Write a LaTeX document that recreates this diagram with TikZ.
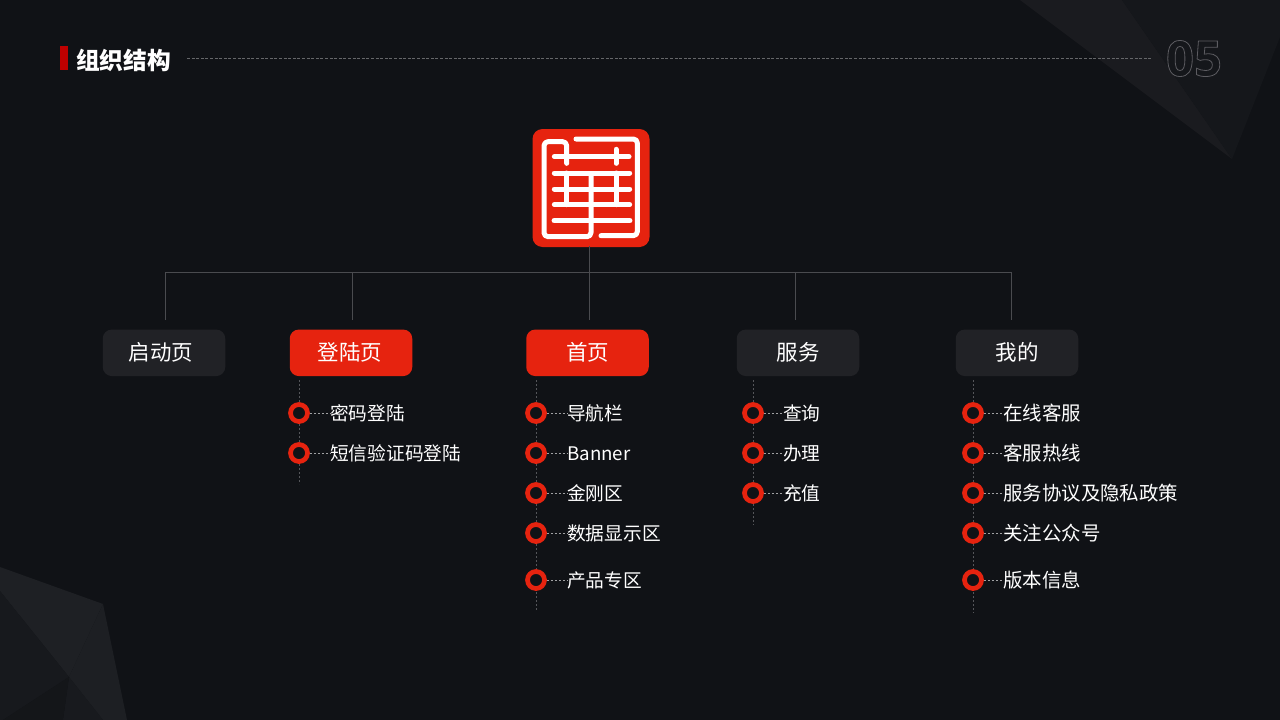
\documentclass[tikz,border=0pt]{standalone}
\usepackage{fontspec}
\setmainfont{Noto Sans CJK SC}
\newfontfamily\numfont{Open Sans}
\definecolor{bgc}{HTML}{101216}
\definecolor{redc}{HTML}{E6230F}
\definecolor{boxc}{HTML}{212226}
\definecolor{linec}{HTML}{4A4B4F}
\definecolor{dashc}{HTML}{A0A1A3}
\definecolor{spinec}{HTML}{55565A}
\tikzset{
  x=1pt,y=-1pt,
  navbox/.style={rounded corners=9pt,minimum width=122.5pt,minimum height=46.5pt,inner sep=0pt,text=white,font=\fontsize{21.5}{24}\selectfont},
  darkbox/.style={navbox,fill=boxc},
  redbox/.style={navbox,fill=redc},
  ring/.style={circle,draw=redc,line width=4.7pt,fill=bgc,minimum size=17pt,inner sep=0pt},
  itemlabel/.style={anchor=west,inner sep=0pt,text=white,text height=16pt,text depth=2pt,font=\fontsize{18.7}{22}\selectfont},
  widelabel/.style={itemlabel,font=\fontsize{19.45}{22}\selectfont},
  orgline/.style={draw=linec,line width=0.9pt},
  dashline/.style={draw=dashc,line width=0.8pt,dash pattern=on 2.6pt off 1.4pt},
  spineline/.style={draw=spinec,line width=1pt,dash pattern=on 2pt off 2pt},
  logostroke/.style={draw=white,line width=5pt,line cap=round,line join=round,rounded corners=4pt},
}
\begin{document}
\begin{tikzpicture}
\useasboundingbox (0,0) rectangle (1280,720);
\fill[bgc] (0,0) rectangle (1280,720);
% corner facets
\fill[fill=white!4!bgc] (1020,0) -- (1122,0) -- (1232,159) -- cycle;
\fill[fill=white!2!bgc] (1122,0) -- (1280,0) -- (1280,37) -- (1232,159) -- cycle;
\fill[fill=white!6!bgc] (0,567) -- (103,604) -- (69,677) -- (0,591) -- cycle;
\fill[fill=white!5.5!bgc] (103,604) -- (127,720) -- (103,720) -- (69,677) -- cycle;
\fill[fill=white!3!bgc] (0,591) -- (69,677) -- (3,720) -- (0,720) -- cycle;
\fill[fill=white!3.5!bgc] (69,677) -- (103,720) -- (63,720) -- cycle;
\fill[fill=white!1.5!bgc] (69,677) -- (63,720) -- (3,720) -- cycle;
% title
\fill[fill=red!75!black] (60,46) rectangle (68,70);
\node[anchor=west,inner sep=0pt,text=white,font=\fontsize{23.7}{26}\selectfont\bfseries] (title) at (76,60) {组织结构};
\coordinate (ruleL) at (187,58);
\coordinate (ruleR) at (1152,58);
\draw[draw=linec!85!white,line width=0.9pt,dash pattern=on 3pt off 1.6pt] (ruleL) -- (ruleR);
\node[anchor=center,inner sep=0pt,font=\numfont\bfseries\fontsize{49}{52}\selectfont] (num) at (1194,58.5)
  {\special{pdf:code q 1 Tr 0.8 w 0.36 0.36 0.38 RG}05\special{pdf:code Q}};
% logo
\node[fill=redc,rounded corners=10pt,minimum width=117pt,minimum height=118pt,inner sep=0pt] (logo) at (591,188) {};
\begin{scope}[shift={(520,120)},x=0.33333pt,y=-0.33333pt]
\draw[logostroke] (140,130) -- (140,65) -- (72,65) -- (72,350) -- (213,350) -- (213,165);
\draw[logostroke] (168,57) -- (352,57) -- (352,347) -- (243,347);
\draw[logostroke] (103,110) -- (327,110);
\draw[logostroke] (288,88) -- (288,130);
\draw[logostroke] (103,159) -- (329,159);
\draw[logostroke] (103,207) -- (329,207);
\draw[logostroke] (103,254) -- (329,254);
\draw[logostroke,line width=5.6pt] (103,302) -- (329,302);
\draw[logostroke] (140,159) -- (140,254);
\draw[logostroke] (288,159) -- (288,254);
\end{scope}
% tree
\coordinate (hub) at (589,272);
\coordinate (busL) at (165.5,272);
\coordinate (busR) at (1011,272);
\coordinate (logoB) at (589,246);
\coordinate (v1) at (165.5,320);
\coordinate (v2a) at (352,272);
\coordinate (v2) at (352,320);
\coordinate (v3) at (589,320);
\coordinate (v4a) at (795,272);
\coordinate (v4) at (795,320);
\coordinate (v5) at (1011,320);
\draw[orgline] (busL) -- (busR);
\draw[orgline] (logoB) -- (hub);
\draw[orgline] (hub) -- (v3);
\draw[orgline] (busL) -- (v1);
\draw[orgline] (v2a) -- (v2);
\draw[orgline] (v4a) -- (v4);
\draw[orgline] (busR) -- (v5);
% boxes
\node[darkbox] (b1) at (164,352.8) {启动页\kern6pt};
\node[redbox] (b2) at (351,352.8) {登陆页\kern2pt};
\node[redbox] (b3) at (587.5,352.8) {首页};
\node[darkbox] (b4) at (798,352.8) {服务};
\node[darkbox] (b5) at (1017,352.8) {我的};
% spines
\coordinate (s2a) at (299,380); \coordinate (s2b) at (299,484);
\coordinate (s3a) at (536,380); \coordinate (s3b) at (536,611);
\coordinate (s4a) at (753,380); \coordinate (s4b) at (753,525);
\coordinate (s5a) at (973,380); \coordinate (s5b) at (973,613);
\draw[spineline] (s2a) -- (s2b);
\draw[spineline] (s3a) -- (s3b);
\draw[spineline] (s4a) -- (s4b);
\draw[spineline] (s5a) -- (s5b);
% column 2
\node[ring] (r21) at (299,413) {}; \node[itemlabel] (t21) at (330,413) {密码登陆};
\node[ring] (r22) at (299,453) {}; \node[itemlabel] (t22) at (330,453) {短信验证码登陆};
% column 3
\node[ring] (r31) at (536,413) {}; \node[itemlabel] (t31) at (567,413) {导航栏};
\node[ring] (r32) at (536,453) {}; \node[itemlabel] (t32) at (567,453) {Banner};
\node[ring] (r33) at (536,493) {}; \node[itemlabel] (t33) at (567,493) {金刚区};
\node[ring] (r34) at (536,533) {}; \node[itemlabel] (t34) at (567,533) {数据显示区};
\node[ring] (r35) at (536,580) {}; \node[itemlabel] (t35) at (567,580) {产品专区};
% column 4
\node[ring] (r41) at (753,413) {}; \node[itemlabel] (t41) at (783,413) {查询};
\node[ring] (r42) at (753,453) {}; \node[itemlabel] (t42) at (783,453) {办理};
\node[ring] (r43) at (753,493) {}; \node[itemlabel] (t43) at (783,493) {充值};
% column 5
\node[ring] (r51) at (973,413) {}; \node[widelabel] (t51) at (1003,413) {在线客服};
\node[ring] (r52) at (973,453) {}; \node[widelabel] (t52) at (1003,453) {客服热线};
\node[ring] (r53) at (973,493) {}; \node[widelabel] (t53) at (1003,493) {服务协议及隐私政策};
\node[ring] (r54) at (973,533) {}; \node[widelabel] (t54) at (1003,533) {关注公众号};
\node[ring] (r55) at (973,580) {}; \node[widelabel] (t55) at (1003,580) {版本信息};
\foreach \p in {21,22,31,32,33,34,35,41,42,43,51,52,53,54,55}
  \draw[dashline] (r\p.east) -- (t\p.west);
\end{tikzpicture}
\end{document}
